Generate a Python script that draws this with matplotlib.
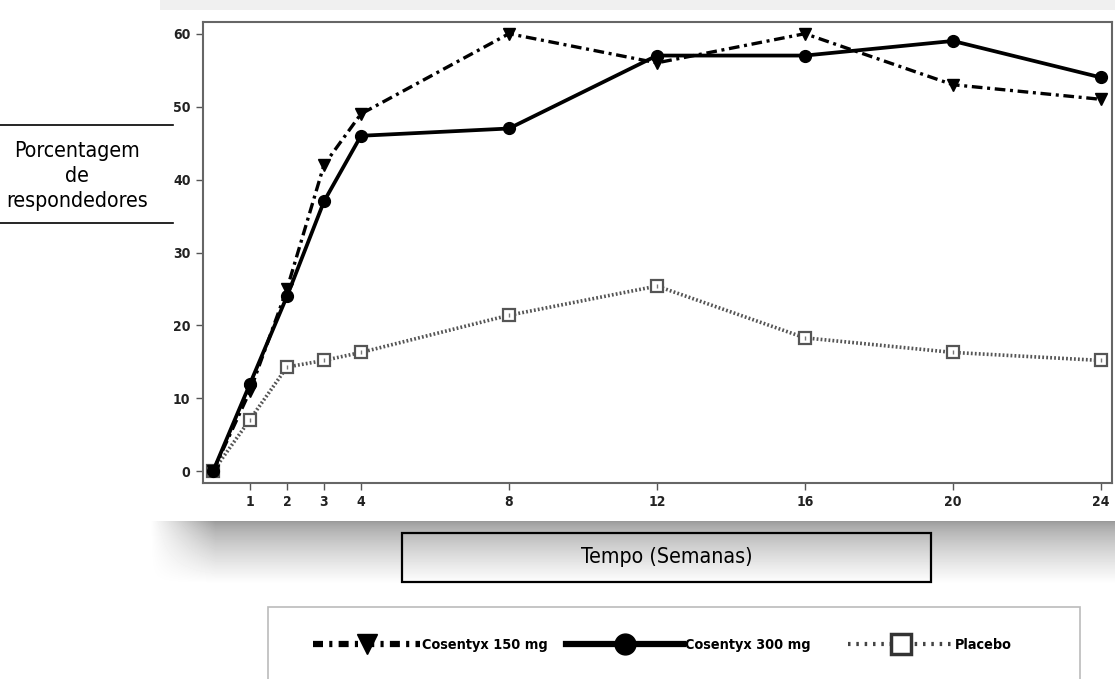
import numpy as np
import matplotlib
matplotlib.use("Agg")
import matplotlib.pyplot as plt
from matplotlib import font_manager
from matplotlib.legend import Legend
from matplotlib.lines import Line2D
from matplotlib.patches import Rectangle

# dados
semanas = [0, 1, 2, 3, 4, 8, 12, 16, 20, 24]
cosentyx_150 = [0, 11, 25, 42, 49, 60, 56, 60, 53, 51]
cosentyx_300 = [0, 12, 24, 37, 46, 47, 57, 57, 59, 54]
placebo = [0, 7.1, 14.3, 15.2, 16.3, 21.4, 25.4, 18.3, 16.3, 15.2]

x_ticks = [1, 2, 3, 4, 8, 12, 16, 20, 24]
y_ticks = [0, 10, 20, 30, 40, 50, 60]
rotulos = ["Cosentyx 150 mg", "Cosentyx 300 mg", "Placebo"]

W, H = 1115, 679


def fx(px):
    return px / W


def fy(py):
    return 1 - py / H


# procura uma fonte estreita instalada
nomes = {f.name for f in font_manager.fontManager.ttflist}
condensada = any(f.name == "DejaVu Sans" and f.stretch in ("condensed", 300, "semi-condensed")
                 for f in font_manager.fontManager.ttflist)
if "Liberation Sans Narrow" in nomes:
    NARROW = dict(family=["Liberation Sans Narrow", "DejaVu Sans"], stretch="normal")
    leg_size = 12
elif condensada:
    NARROW = dict(family=["DejaVu Sans"], stretch="condensed")
    leg_size = 10.4
else:
    NARROW = dict(family=["DejaVu Sans"], stretch="normal")
    leg_size = 9.5
if condensada:
    LABEL = dict(family=["DejaVu Sans"], stretch="condensed", size=15.3)
else:
    LABEL = dict(family=["DejaVu Sans"], stretch="normal", size=13.5)

fig = plt.figure(figsize=(W / 100, H / 100), dpi=100)

# fundo: painel branco com sombra cinza por baixo
bg = np.ones((H, W))
bg[0:10, 160:] = 0.94
for yy in range(521, 584):
    v = 0.6 + 0.4 * ((yy - 521) / 62.0) ** 0.7
    for xx in range(150, W):
        f = min(1.0, (xx - 150) / 65.0)
        bg[yy, xx] = 1 - (1 - v) * f
bg[10:521, 172:] = 1.0
bg_ax = fig.add_axes([0, 0, 1, 1], zorder=-10)
bg_ax.imshow(bg, cmap="gray", vmin=0, vmax=1, aspect="auto", interpolation="bilinear")
bg_ax.axis("off")

ax = fig.add_axes([fx(203), fy(483), fx(1112 - 203), (483 - 22) / H])
ax.set_facecolor("white")

ax.plot(semanas, cosentyx_150, color="black", lw=2.4, linestyle=(0, (3.2, 1.4, 0.9, 1.4)),
        marker="v", markersize=8, zorder=3)
ax.plot(semanas, cosentyx_300, color="black", lw=2.7, linestyle="-",
        marker="o", markersize=8.5, zorder=4)
ax.plot(semanas, placebo, color="#555555", lw=2.6, linestyle=(0, (0.5, 0.6)),
        marker="s", markersize=9, markerfacecolor="white", markeredgecolor="#555555",
        markeredgewidth=1.6, zorder=2)
ax.plot(semanas, placebo, linestyle="none", marker="|", markersize=3, color="#777777",
        markeredgewidth=1, zorder=2.5)

ax.set_xlim(-0.27, 24.3)
ax.set_ylim(-1.6, 61.6)
ax.set_xticks(x_ticks)
ax.set_yticks(y_ticks)
for lbl in ax.get_xticklabels() + ax.get_yticklabels():
    lbl.set_family(NARROW["family"])
    lbl.set_stretch(NARROW["stretch"])
    lbl.set_fontweight("bold")
    lbl.set_fontsize(10)
    lbl.set_color("#222222")
ax.tick_params(direction="out", length=5, width=1, color="#555555", pad=4)
for sp in ax.spines.values():
    sp.set_color("#666666")
    sp.set_linewidth(1.5)

# rótulo do eixo y com linhas
fig.add_artist(Line2D([0, fx(173)], [fy(125), fy(125)], transform=fig.transFigure, color="black", lw=1.2))
fig.add_artist(Line2D([0, fx(173)], [fy(223), fy(223)], transform=fig.transFigure, color="black", lw=1.2))
fig.text(fx(77), fy(176), "Porcentagem\nde\nrespondedores", ha="center", va="center",
         linespacing=1.33, **LABEL)

# rótulo do eixo x em caixa
fig.add_artist(Rectangle((fx(402), fy(582)), fx(931 - 402), (582 - 533) / H, transform=fig.transFigure,
                         fill=False, edgecolor="black", lw=1.6))
fig.text(fx(667), fy(557), "Tempo (Semanas)", ha="center", va="center", **LABEL)

# legenda: uma entrada por vez, cada uma com o seu comprimento de traço
fig.add_artist(Rectangle((fx(268), fy(700)), fx(1080 - 268), (700 - 607) / H, transform=fig.transFigure,
                         facecolor="white", edgecolor="#bbbbbb", lw=1.2, zorder=1))
handles = [
    Line2D([], [], color="black", lw=4.5, linestyle=(0, (1.6, 1.0, 0.5, 1.0)), marker="v", markersize=14),
    Line2D([], [], color="black", lw=4.5, linestyle="-", marker="o", markersize=15),
    Line2D([], [], color="#444444", lw=3, linestyle=(0, (0.6, 1.4)), marker="s", markersize=15,
           markerfacecolor="white", markeredgecolor="#333333", markeredgewidth=2.5),
]
inicio_px = [313, 566, 848]
comp_px = [107, 117, 105]
prop = {"family": NARROW["family"], "stretch": NARROW["stretch"], "weight": "bold", "size": leg_size}
fs_px = leg_size * 100 / 72.0
for h, lab, x0, comp in zip(handles, rotulos, inicio_px, comp_px):
    leg = Legend(fig, [h], [lab], loc="center left", bbox_to_anchor=(fx(x0), fy(645)),
                 bbox_transform=fig.transFigure, frameon=False, borderpad=0, borderaxespad=0,
                 handlelength=comp / fs_px, handletextpad=0.15, prop=prop)
    leg.set_zorder(5)
    fig.add_artist(leg)

fig.savefig("out.png", dpi=100)
